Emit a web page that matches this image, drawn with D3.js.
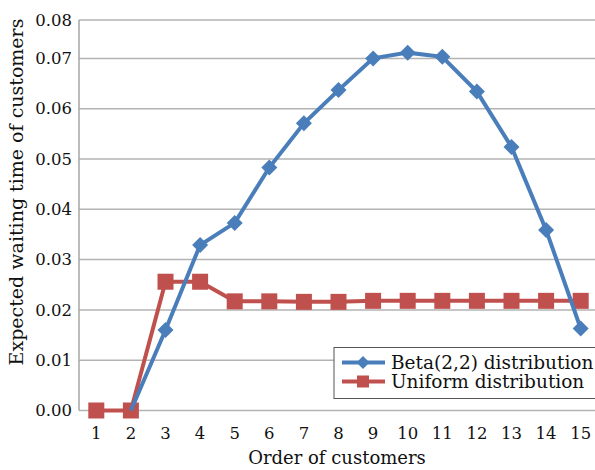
<!DOCTYPE html>
<html><head><meta charset="utf-8">
<script src="https://cdn.jsdelivr.net/npm/d3@7"></script>
<style>body{margin:0;background:#fff}svg{display:block}text{font-family:"DejaVu Serif",serif;fill:#111}</style>
</head><body><svg id="c" width="595" height="470"></svg>
<script>
const categories = ["1","2","3","4","5","6","7","8","9","10","11","12","13","14","15"];
const betaValues = [null, 0, 0.0160, 0.0329, 0.0373, 0.0483, 0.0571, 0.0637, 0.0700, 0.0715, 0.0704, 0.0634, 0.0524, 0.0359, 0.0163];
const uniformValues = [0, 0, 0.0256, 0.0256, 0.0217, 0.0217, 0.0216, 0.0216, 0.0218, 0.0218, 0.0218, 0.0218, 0.0218, 0.0218, 0.0218];
const yTicks = [0, 0.01, 0.02, 0.03, 0.04, 0.05, 0.06, 0.07, 0.08];
const seriesNames = ["Beta(2,2) distribution", "Uniform distribution"];
const colors = ["#4a7ebb", "#c0504d"];

const svg = d3.select("#c");
const x = d3.scaleBand().domain(categories).range([79, 598]);
const y = d3.scaleLinear().domain([0, 0.07, 0.08]).range([410.5, 58.4, 20]);
const cx = c => x(c) + x.bandwidth() / 2;

// grid
svg.append("g").selectAll("line").data(yTicks).join("line")
  .attr("x1", 79).attr("x2", 595).attr("y1", d => y(d)).attr("y2", d => y(d))
  .attr("stroke", "#b3b3b3").attr("stroke-width", 1.5);
svg.append("line").attr("x1", 79).attr("x2", 79).attr("y1", y(0.08)).attr("y2", y(0))
  .attr("stroke", "#a6a6a6").attr("stroke-width", 1.5);

// y tick labels
svg.append("g").selectAll("text").data(yTicks).join("text")
  .attr("x", 72).attr("y", d => y(d)).attr("dy", "0.35em").attr("text-anchor", "end")
  .attr("font-size", 16.5).text(d => d3.format(".2f")(d));
// x tick labels
svg.append("g").selectAll("text").data(categories).join("text")
  .attr("x", d => cx(d)).attr("y", 433).attr("dy", "0.35em").attr("text-anchor", "middle")
  .attr("font-size", 16.5).text(d => d);

svg.append("text").attr("x", 337).attr("y", 464).attr("text-anchor", "middle")
  .attr("font-size", 18).text("Order of customers");
svg.append("text").attr("transform", "translate(23,192) rotate(-90)").attr("text-anchor", "middle")
  .attr("font-size", 19).text("Expected waiting time of customers");

const line = d3.line().defined(d => d.v !== null).x(d => cx(d.c)).y(d => y(d.v));
const betaData = categories.map((c, i) => ({c, v: betaValues[i]}));
const uniData = categories.map((c, i) => ({c, v: uniformValues[i]}));

const diamond = s => `M0,${-s}L${s},0L0,${s}L${-s},0Z`;

// uniform
svg.append("path").datum(uniData).attr("d", line).attr("fill", "none")
  .attr("stroke", colors[1]).attr("stroke-width", 4);
svg.append("g").selectAll("rect").data(uniData).join("rect")
  .attr("x", d => cx(d.c) - 8).attr("y", d => y(d.v) - 8).attr("width", 16).attr("height", 16)
  .attr("fill", colors[1]);
// beta
svg.append("path").datum(betaData).attr("d", line).attr("fill", "none")
  .attr("stroke", colors[0]).attr("stroke-width", 4);
svg.append("g").selectAll("path").data(betaData.filter(d => d.v !== null && d.v > 0)).join("path")
  .attr("transform", d => `translate(${cx(d.c)},${y(d.v)})`).attr("d", diamond(8))
  .attr("fill", colors[0]);

// legend
const lg = svg.append("g");
lg.append("rect").attr("x", 334).attr("y", 347.5).attr("width", 270).attr("height", 51)
  .attr("fill", "#fff").attr("stroke", "#555").attr("stroke-width", 1);
const rowsY = [362.5, 381.5];
seriesNames.forEach((n, i) => {
  const g = lg.append("g");
  g.append("line").attr("x1", 342).attr("x2", 385).attr("y1", rowsY[i]).attr("y2", rowsY[i])
    .attr("stroke", colors[i]).attr("stroke-width", 4);
  if (i === 0) g.append("path").attr("transform", `translate(363,${rowsY[i]})`).attr("d", diamond(6.5)).attr("fill", colors[i]);
  else g.append("rect").attr("x", 357).attr("y", rowsY[i] - 6).attr("width", 12).attr("height", 12).attr("fill", colors[i]);
  g.append("text").attr("x", 391).attr("y", rowsY[i]).attr("dy", "0.35em").attr("font-size", 18.5).text(n);
});
</script></body></html>
